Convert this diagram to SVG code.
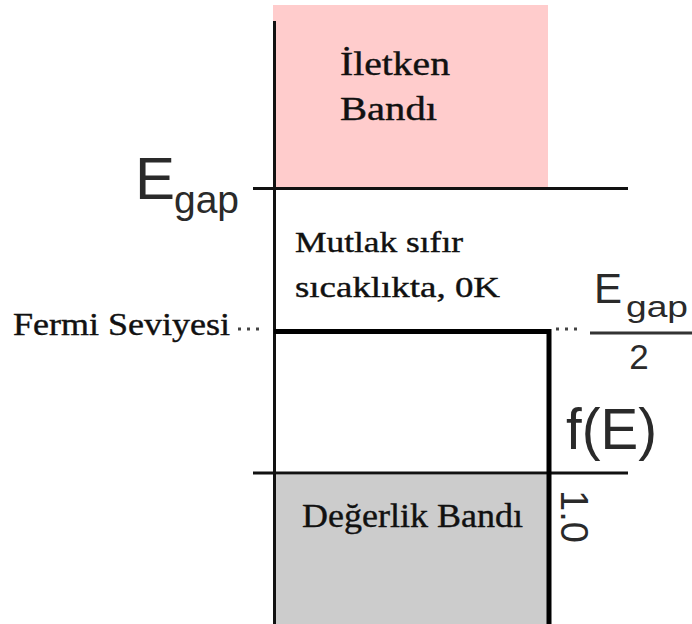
<svg xmlns="http://www.w3.org/2000/svg" width="692" height="624" viewBox="0 0 692 624">
  <style>
    .serif { font-family: "Liberation Serif", "Times New Roman", serif; fill: #111; stroke: #111; stroke-width: 0.4; }
    .sans { font-family: "Liberation Sans", Arial, sans-serif; fill: #2a2a2a; }
    .axis { stroke: #111; stroke-width: 3; fill: none; }
    .fermi { stroke: #000; stroke-width: 5; fill: none; }
    .dots { stroke: #444; stroke-width: 3; stroke-dasharray: 3 6; fill: none; }
  </style>
  <rect width="692" height="624" fill="#ffffff"/>

  <!-- conduction band -->
  <g id="conduction-band">
    <rect x="273" y="5" width="275" height="182" fill="#ffcccc"/>
    <text class="serif" x="340" y="75" font-size="34" textLength="110" lengthAdjust="spacingAndGlyphs">İletken</text>
    <text class="serif" x="340" y="120" font-size="34" textLength="97" lengthAdjust="spacingAndGlyphs">Bandı</text>
  </g>

  <!-- valence band -->
  <g id="valence-band">
    <rect x="275" y="475" width="273" height="149" fill="#cccccc"/>
    <text class="serif" x="302" y="527" font-size="34" textLength="221" lengthAdjust="spacingAndGlyphs">Değerlik Bandı</text>
  </g>

  <!-- axes, band edges and the 0 K occupation step -->
  <g id="connectors">
    <line class="axis" x1="274.5" y1="21" x2="274.5" y2="624"/>
    <line class="axis" x1="253" y1="188.5" x2="628" y2="188.5"/>
    <line class="axis" x1="253" y1="473" x2="628" y2="473"/>
    <polyline class="fermi" points="274,331.5 549,331.5 549,624"/>
    <line class="dots" x1="238" y1="329" x2="264" y2="329"/>
    <line class="dots" x1="556" y1="329" x2="582" y2="329"/>
    <line x1="590" y1="333" x2="692" y2="333" stroke="#333" stroke-width="3"/>
  </g>

  <g id="egap-left">
    <text class="sans" x="135" y="199" font-size="60">E</text>
    <text class="sans" x="174" y="213" font-size="38" textLength="65" lengthAdjust="spacingAndGlyphs">gap</text>
  </g>

  <g id="zero-kelvin-label">
    <text class="serif" x="295" y="252" font-size="30" textLength="168" lengthAdjust="spacingAndGlyphs">Mutlak sıfır</text>
    <text class="serif" x="295" y="297" font-size="30" textLength="205" lengthAdjust="spacingAndGlyphs">sıcaklıkta, 0K</text>
  </g>

  <g id="fermi-label">
    <text class="serif" x="13" y="335" font-size="31" textLength="217" lengthAdjust="spacingAndGlyphs">Fermi Seviyesi</text>
  </g>

  <g id="egap-half">
    <text class="sans" x="594" y="303" font-size="42">E</text>
    <text class="sans" x="626" y="317" font-size="30" textLength="62" lengthAdjust="spacingAndGlyphs">gap</text>
    <text class="sans" x="639" y="369" font-size="35" text-anchor="middle">2</text>
  </g>

  <g id="fe-label">
    <text class="sans" x="566" y="449" font-size="57" textLength="91" lengthAdjust="spacingAndGlyphs">f(E)</text>
  </g>

  <g id="one-label">
    <text class="sans" transform="translate(561,490) rotate(90)" font-size="38">1.0</text>
  </g>
</svg>
